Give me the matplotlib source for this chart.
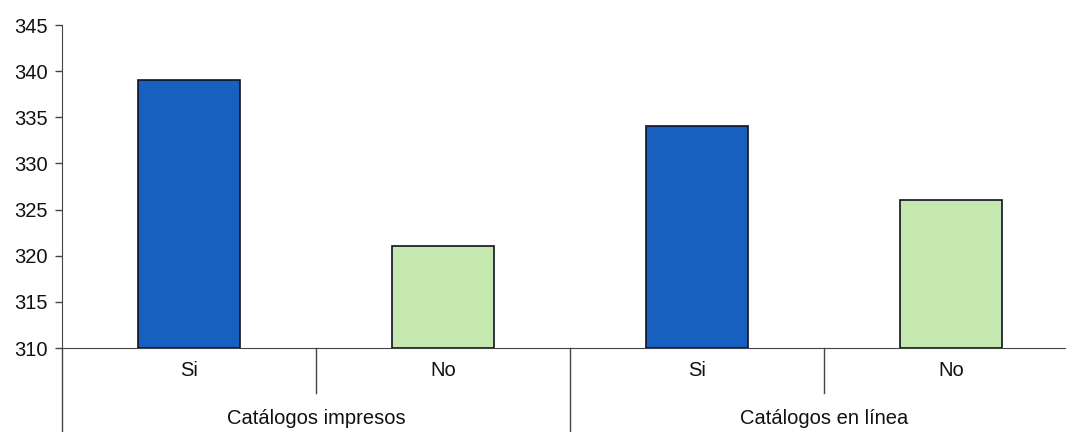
import matplotlib
matplotlib.use("Agg")
import matplotlib.pyplot as plt
from matplotlib.lines import Line2D

plt.rcParams['font.family'] = ['Liberation Sans', 'DejaVu Sans']

groups = ["Catálogos impresos", "Catálogos en línea"]
subcats = ["Si", "No", "Si", "No"]
values = [339.0, 321.0, 334.1, 326.0]
colors = ["#1860c0", "#c4e8b0", "#1860c0", "#c4e8b0"]
yticks = [310, 315, 320, 325, 330, 335, 340, 345]

W, H = 1066, 432
fig = plt.figure(figsize=(W / 100, H / 100), dpi=100)
left, right, top, bottom = 62, 1078, 25, 348
ax = fig.add_axes([left / W, (H - bottom) / H, (right - left) / W, (bottom - top) / H])

x = list(range(len(values)))
ax.bar(x, [v - 310 for v in values], bottom=310, width=0.405, color=colors,
       edgecolor="#111122", linewidth=1.2, zorder=3)

ax.set_xlim(-0.5, len(values) - 0.5)
ax.set_ylim(310, 345)
ax.set_yticks(yticks)
ax.set_yticklabels([str(t) for t in yticks], fontsize=14.5, color="#111111")
ax.tick_params(axis='y', direction='out', length=5, width=1, color="#444444", pad=5)
ax.set_xticks([])

for s in ["top", "right"]:
    ax.spines[s].set_visible(False)
ax.spines["left"].set_color("#444444")
ax.spines["bottom"].set_color("#444444")

axis_h = bottom - top
ext = (H - bottom) / axis_h
trans = ax.get_xaxis_transform()
ax.add_line(Line2D([-0.5, -0.5], [0, -ext], transform=trans, color="#444444",
                   lw=1, clip_on=False))
short = 45 / axis_h
for i in range(1, len(values)):
    xs = i - 0.5
    yend = -ext if i % 2 == 0 else -short
    ax.add_line(Line2D([xs, xs], [0, yend], transform=trans, color="#444444",
                       lw=1, clip_on=False))

for i, lab in enumerate(subcats):
    ax.text(i, -22 / axis_h, lab, transform=trans, ha="center", va="center",
            fontsize=14.5, color="#111111")
for g, lab in enumerate(groups):
    ax.text(2 * g + 0.5, -70 / axis_h, lab, transform=trans, ha="center",
            va="center", fontsize=14.5, color="#111111")

fig.savefig("out.png", dpi=100, facecolor="white")
